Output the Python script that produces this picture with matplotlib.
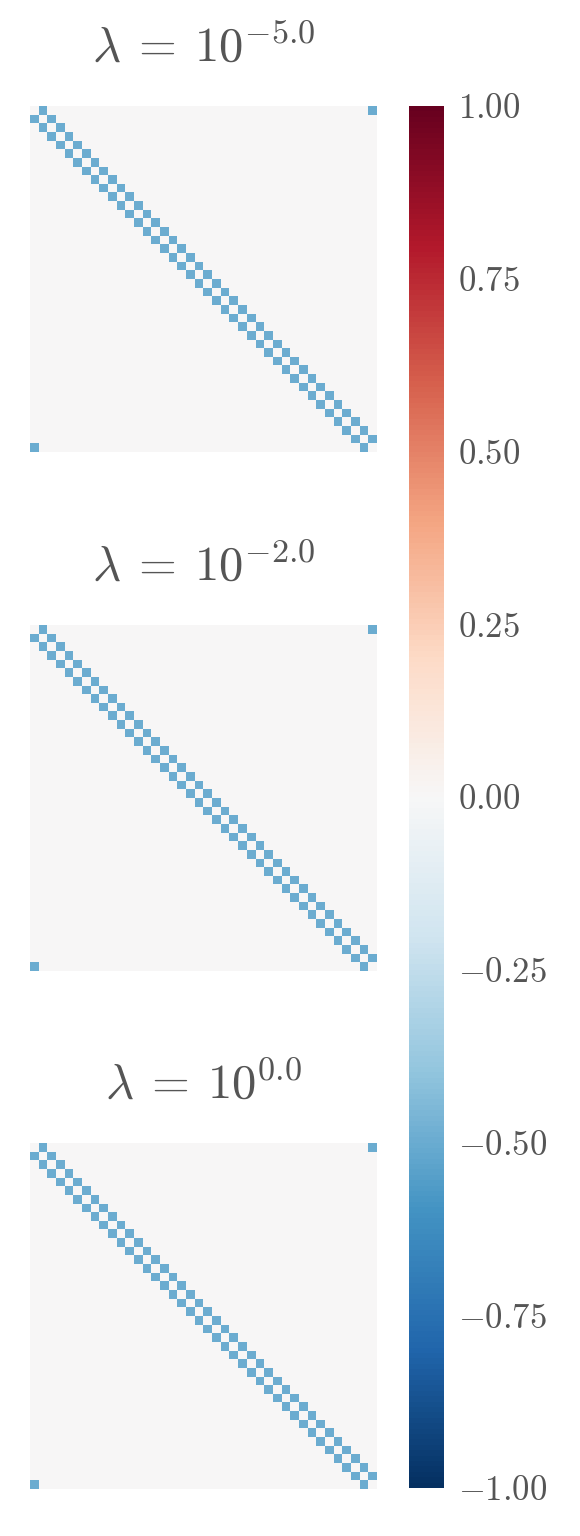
import numpy as np
import matplotlib
matplotlib.use('Agg')
import matplotlib.pyplot as plt
from matplotlib.ticker import FuncFormatter

# data
log_lambdas = [-5.0, -2.0, 0.0]
n_nodes = 40
coupling = -0.5          # value on the cyclic off-diagonals
cbar_ticks = [-1.00, -0.75, -0.50, -0.25, 0.00, 0.25, 0.50, 0.75, 1.00]

plt.rcParams['mathtext.fontset'] = 'cm'
plt.rcParams['font.family'] = 'serif'
plt.rcParams['font.serif'] = ['cmr10', 'DejaVu Serif']
plt.rcParams['axes.formatter.use_mathtext'] = True
plt.rcParams['text.color'] = '#555555'
plt.rcParams['xtick.color'] = '#555555'
plt.rcParams['ytick.color'] = '#555555'

def ring_matrix(n, c):
    eye = np.eye(n)
    return c * (np.roll(eye, 1, axis=1) + np.roll(eye, -1, axis=1))

W, H = 580, 1536
fig = plt.figure(figsize=(W / 100, H / 100), dpi=100)

tops = [106, 625, 1143]
left, right = 30, 377
side = 346
for top, ll in zip(tops, log_lambdas):
    ax = fig.add_axes([left / W, 1 - (top + side) / H, (right - left) / W, side / H])
    m = ring_matrix(n_nodes, coupling)
    im = ax.imshow(m, cmap='RdBu_r', vmin=-1, vmax=1, aspect='auto', interpolation='nearest')
    ax.set_xticks([])
    ax.set_yticks([])
    for s in ax.spines.values():
        s.set_visible(False)
    ax.set_title(r'$\lambda\:=\:10^{%.1f}$' % ll, fontsize=35, pad=32)

cax = fig.add_axes([409 / W, 1 - 1488 / H, 35 / W, (1488 - 106) / H])
cb = fig.colorbar(im, cax=cax, ticks=cbar_ticks)
cb.outline.set_visible(False)
cax.tick_params(length=0, labelsize=25, pad=10)
cax.yaxis.set_major_formatter(FuncFormatter(lambda v, p: r'$%.2f$' % v))

plt.savefig('out.png', dpi=100)
